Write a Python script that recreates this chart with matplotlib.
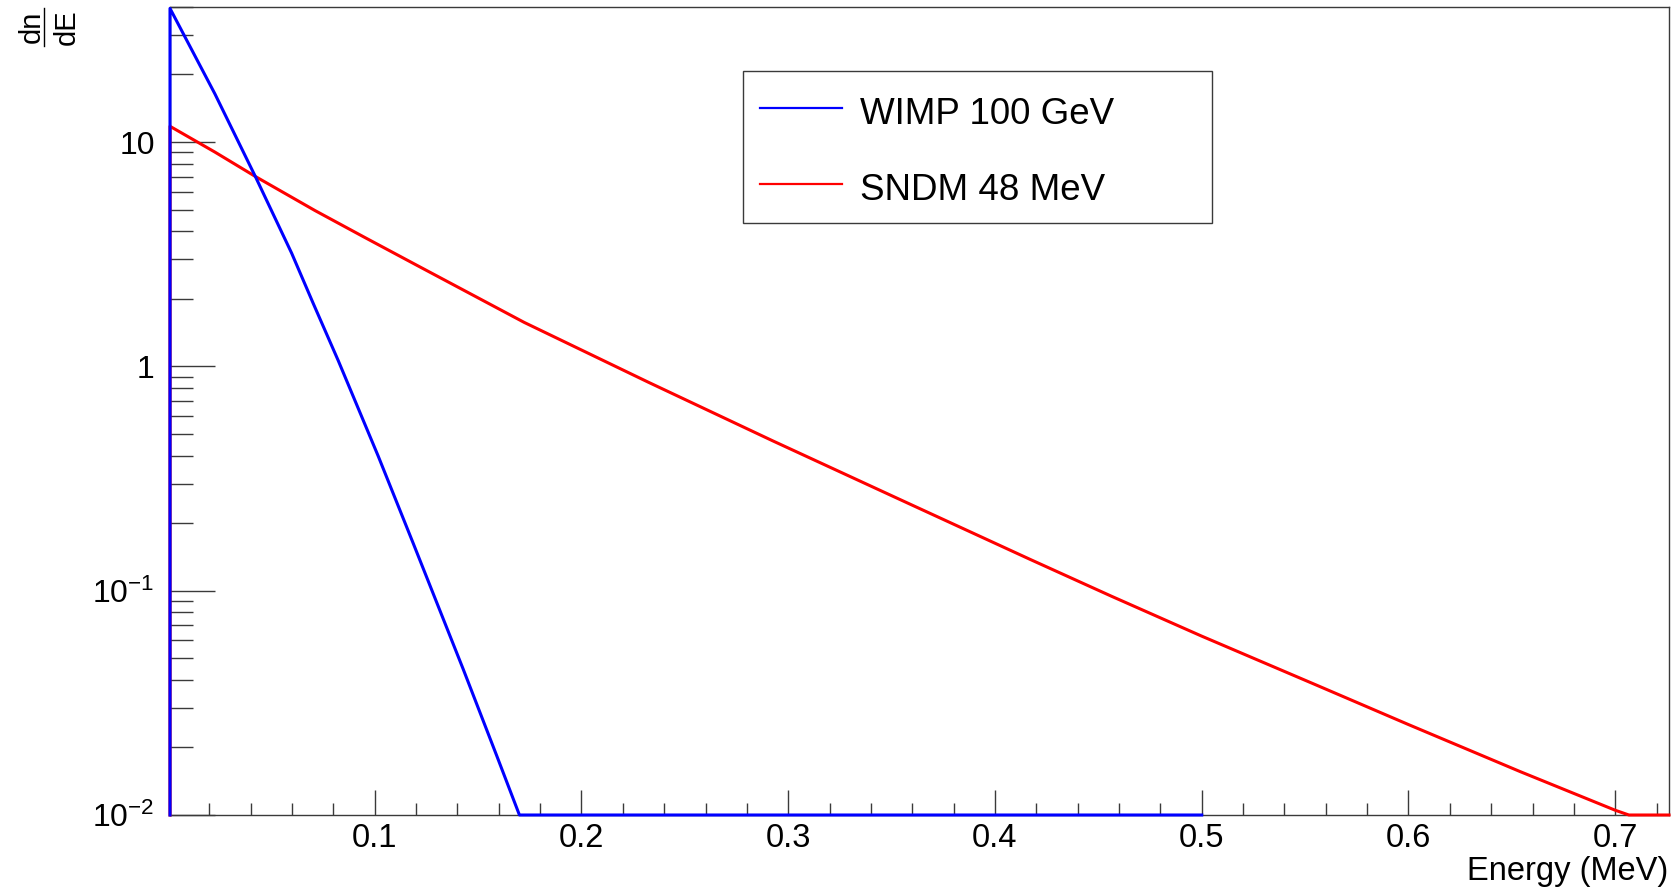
import matplotlib
matplotlib.use("Agg")
import matplotlib.pyplot as plt
from matplotlib.lines import Line2D
from matplotlib.patches import Rectangle
from matplotlib.ticker import FixedLocator, FixedFormatter, NullFormatter

# ---- data ----
wimp_energy = [0.001, 0.001, 0.0227, 0.0424, 0.0598, 0.0703, 0.0824, 0.1017,
               0.1187, 0.1428, 0.159, 0.170, 0.500]
wimp_rate = [0.01, 39.4, 16.4, 6.98, 3.20, 1.905, 1.059, 0.398,
             0.162, 0.0447, 0.0184, 0.01, 0.01]

sndm_energy = [0.001, 0.001, 0.0227, 0.0424, 0.0711, 0.0953, 0.1195, 0.1723,
               0.2323, 0.2924, 0.3524, 0.4169, 0.4564, 0.500, 0.5553, 0.600,
               0.6541, 0.700, 0.7066, 0.726]
sndm_rate = [0.01, 11.75, 9.02, 7.01, 4.95, 3.75, 2.85, 1.57,
             0.850, 0.466, 0.259, 0.138, 0.0944, 0.0627, 0.0380, 0.0253,
             0.0156, 0.0105, 0.01, 0.01]

series_labels = ["WIMP 100 GeV", "SNDM 48 MeV"]
series_colors = ["#0000ff", "#ff0000"]

x_major = [0.1, 0.2, 0.3, 0.4, 0.5, 0.6, 0.7]
x_major_labels = ["0.1", "0.2", "0.3", "0.4", "0.5", "0.6", "0.7"]
x_minor = [round(0.02 * i, 2) for i in range(1, 37)]
y_major = [0.01, 0.1, 1, 10]
y_major_labels = ["$\\mathregular{10^{\\text{\u22122}}}$",
                  "$\\mathregular{10^{\\text{\u22121}}}$", "1", "10"]
y_minor = [m * 10.0 ** k for k in range(-2, 2) for m in range(2, 10)]

# ---- style ----
plt.rcParams["font.family"] = ["Liberation Sans", "DejaVu Sans"]
plt.rcParams["mathtext.fontset"] = "custom"
plt.rcParams["mathtext.rm"] = "Liberation Sans"
plt.rcParams["mathtext.it"] = "Liberation Sans:italic"
plt.rcParams["mathtext.bf"] = "Liberation Sans:bold"

W, H = 1677, 890
fig = plt.figure(figsize=(W / 100, H / 100), dpi=100)
fig.patch.set_facecolor("white")

L, R, T, B = 170, 1669, 6.7, 815
ax = fig.add_axes([L / W, 1 - B / H, (R - L) / W, (B - T) / H])
ax.set_yscale("log")
ax.set_xlim(0.001, 0.726)
ax.set_ylim(0.01, 40.1)

axcol = "#3a3a3a"
for s in ax.spines.values():
    s.set_color(axcol)
    s.set_linewidth(1.0)

ax.plot(sndm_energy, sndm_rate, color=series_colors[1], lw=2.2, zorder=3,
        clip_on=False)
ax.plot(wimp_energy, wimp_rate, color=series_colors[0], lw=2.2, zorder=4,
        clip_on=False)

ax.xaxis.set_major_locator(FixedLocator(x_major))
ax.xaxis.set_major_formatter(FixedFormatter(x_major_labels))
ax.xaxis.set_minor_locator(FixedLocator(x_minor))
ax.xaxis.set_minor_formatter(NullFormatter())
ax.yaxis.set_major_locator(FixedLocator(y_major))
ax.yaxis.set_major_formatter(FixedFormatter(y_major_labels))
ax.yaxis.set_minor_locator(FixedLocator(y_minor))
ax.yaxis.set_minor_formatter(NullFormatter())

ax.tick_params(axis="x", which="major", direction="in", length=18, width=1.0,
               color=axcol, labelsize=23.5, pad=6, top=False)
ax.tick_params(axis="x", which="minor", direction="in", length=8.6, width=1.0,
               color=axcol, top=False)
ax.tick_params(axis="y", which="major", direction="in", length=32.4, width=1.0,
               color=axcol, labelsize=23, pad=11, right=False)
ax.tick_params(axis="y", which="minor", direction="in", length=16.5, width=1.0,
               color=axcol, right=False)

# axis titles
fig.text(1668 / W, 1 - 880 / H, "Energy (MeV)", ha="right", va="baseline",
         fontsize=23.5)
# y title: fraction dn / dE, rotated
fig.text(40 / W, 1 - 27 / H, "dn", rotation=90, rotation_mode="anchor",
         ha="center", va="baseline", fontsize=21)
fig.text(75 / W, 1 - 27 / H, "dE", rotation=90, rotation_mode="anchor",
         ha="center", va="baseline", fontsize=21)
fig.add_artist(Line2D([44 / W, 44 / W], [1 - 8 / H, 1 - 46 / H],
                      transform=fig.transFigure, color="black", lw=1.0))

# legend box
lx0, ly0, lx1, ly1 = 743, 71, 1212, 223
fig.add_artist(Rectangle((lx0 / W, 1 - ly1 / H), (lx1 - lx0) / W, (ly1 - ly0) / H,
                         transform=fig.transFigure, facecolor="white",
                         edgecolor=axcol, lw=1.0, zorder=5))
for i, (lab, col) in enumerate(zip(series_labels, series_colors)):
    ly = [108, 184][i]
    base = [124, 199.5][i]
    fig.add_artist(Line2D([760 / W, 842 / W], [1 - ly / H, 1 - ly / H],
                          transform=fig.transFigure, color=col, lw=1.6, zorder=6))
    fig.text(860 / W, 1 - base / H, lab, ha="left", va="baseline",
             fontsize=26.5, zorder=6)

fig.savefig("out.png", dpi=100, facecolor="white")
